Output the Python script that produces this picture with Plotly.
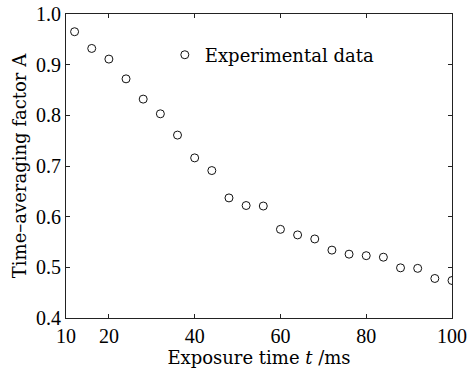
import plotly.graph_objects as go

exposure_ms = [12, 16, 20, 24, 28, 32, 36, 40, 44, 48, 52, 56, 60, 64, 68, 72, 76, 80, 84, 88, 92, 96, 100]
factor_a = [0.965, 0.932, 0.911, 0.872, 0.832, 0.803, 0.761, 0.716, 0.691, 0.637, 0.622, 0.621,
            0.575, 0.564, 0.556, 0.534, 0.526, 0.523, 0.520, 0.499, 0.498, 0.478, 0.474]
x_ticks = [10, 20, 40, 60, 80, 100]
y_ticks = [0.4, 0.5, 0.6, 0.7, 0.8, 0.9, 1.0]

TICKFONT = "Liberation Serif"
TEXTFONT = "DejaVu Serif"
AX = "#222222"

fig = go.Figure()
fig.add_trace(go.Scatter(
    x=exposure_ms, y=factor_a, mode="markers", name="Experimental data",
    marker=dict(symbol="circle-open", size=8, color="#111111", line=dict(width=1, color="#111111")),
))

fig.update_layout(
    width=470, height=369,
    margin=dict(l=66, r=18, t=14, b=51),
    paper_bgcolor="white", plot_bgcolor="white",
    font=dict(family=TEXTFONT, size=18, color="black"),
    showlegend=True,
    legend=dict(x=0.256, y=0.865, xanchor="left", yanchor="middle",
                bgcolor="rgba(0,0,0,0)", font=dict(family=TEXTFONT, size=18, color="black"),
                itemwidth=30, tracegroupgap=0),
)
fig.update_xaxes(
    range=[10, 100], tickvals=x_ticks, ticks="inside", ticklen=4, tickcolor=AX,
    showline=True, linecolor=AX, linewidth=1, mirror="ticks", showgrid=False, zeroline=False,
    automargin=False,
    title=dict(text="Exposure time <i>t</i> /ms", standoff=2, font=dict(family=TEXTFONT, size=18)),
    tickfont=dict(family=TICKFONT, size=20, color="black"),
)
fig.update_yaxes(
    range=[0.4, 1.0], tickvals=y_ticks, tickformat=".1f", ticks="inside", ticklen=4, tickcolor=AX,
    showline=True, linecolor=AX, linewidth=1, mirror="ticks", showgrid=False, zeroline=False,
    automargin=False,
    title=dict(text="Time\u2013averaging factor A", standoff=4, font=dict(family=TEXTFONT, size=18)),
    tickfont=dict(family=TICKFONT, size=20, color="black"),
)

fig.write_html("out.html")
